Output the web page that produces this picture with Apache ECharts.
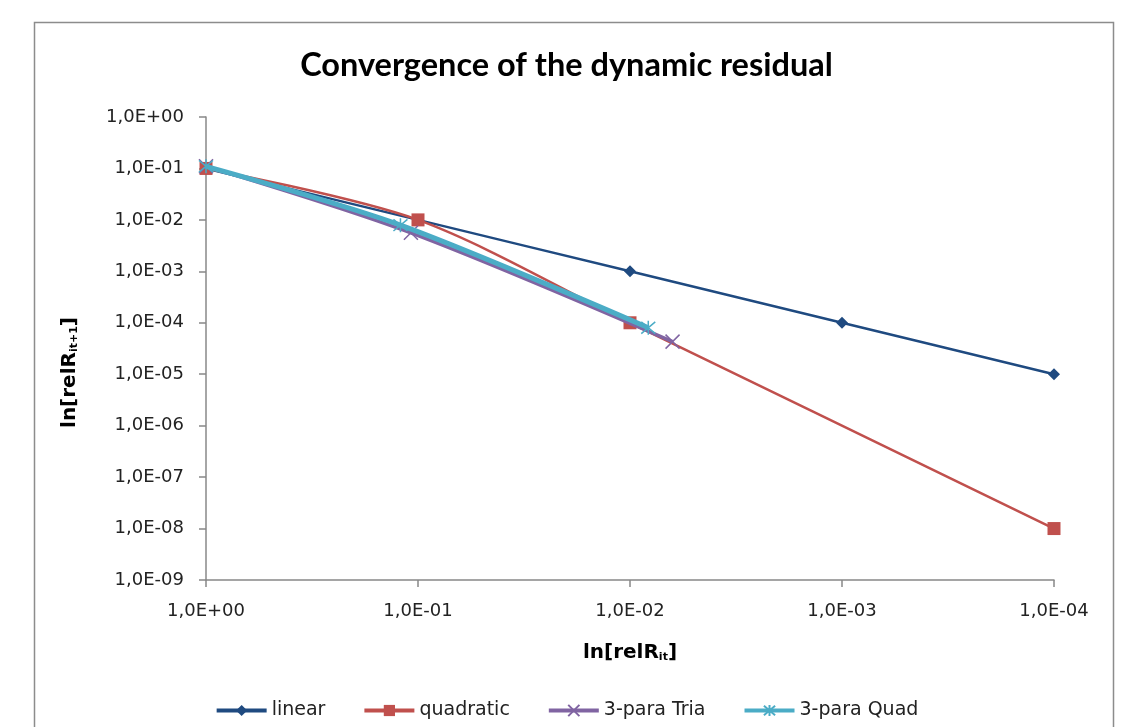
<!DOCTYPE html>
<html>
<head>
<meta charset="utf-8">
<script src="https://cdn.jsdelivr.net/npm/echarts@6/dist/echarts.min.js"></script>
<style>html,body{margin:0;padding:0;background:#fff}#c{width:1133px;height:727px}</style>
</head>
<body>
<div id="c"></div>
<script>
const titleText = 'Convergence of the dynamic residual';
const seriesNames = ['linear', 'quadratic', '3-para Tria', '3-para Quad'];
const linearX = [1, 0.1, 0.01, 0.001, 0.0001];
const linearY = [0.1, 0.01, 0.001, 0.0001, 0.00001];
const quadX = [1, 0.1, 0.01, 0.0001];
const quadY = [0.1, 0.01, 0.0001, 0.00000001];
const triaX = [1, 0.108, 0.0063];
const triaY = [0.11, 0.0056, 0.000043];
const quadParaX = [1, 0.121, 0.0082];
const quadParaY = [0.11, 0.0079, 0.00008];
const xMin = 0.0001, xMax = 1;
const yMin = 1e-9, yMax = 1;

function pairs(xs, ys) { return xs.map((x, i) => [x, ys[i]]); }
function fmt(v) {
  const e = Math.round(Math.log10(v));
  return '1,0E' + (e < 0 ? '-' : '+') + String(Math.abs(e)).padStart(2, '0');
}
const LFONT = 'DejaVu Sans';
const chart = echarts.init(document.getElementById('c'));
const xSym = 'path://M0,0L10,10M10,0L0,10';
const starSym = 'path://M0,0L10,10M10,0L0,10M5,-1L5,11';
const nameRich = {
  m: { fontFamily: LFONT, fontWeight: 'bold', fontSize: 20, color: '#000' },
  s: { fontFamily: LFONT, fontWeight: 'bold', fontSize: 11, color: '#000', verticalAlign: 'bottom', padding: [10, 0, 0, 0] }
};
chart.setOption({
  backgroundColor: '#fff',
  animation: false,
  graphic: [{
    type: 'rect', shape: { x: 34.5, y: 22.5, width: 1079, height: 720 },
    style: { fill: 'none', stroke: '#8c8c8c', lineWidth: 1.5 }, silent: true, z: -1
  }],
  title: {
    text: titleText, left: 'center', top: 44,
    textStyle: { fontFamily: 'Lato', fontWeight: 'bold', fontSize: 32.5, color: '#000' }
  },
  grid: { left: 206, right: 79, top: 117, bottom: 147 },
  legend: {
    bottom: 2, left: 'center', itemWidth: 50, itemHeight: 14, itemGap: 37,
    lineStyle: { width: 4 },
    textStyle: { fontFamily: LFONT, fontSize: 19, color: '#222' },
    data: seriesNames
  },
  xAxis: {
    type: 'log', logBase: 10, min: xMin, max: xMax, inverse: true,
    name: '{m|ln[relR}{s|it}{m|]}', nameLocation: 'middle', nameGap: 62,
    nameTextStyle: { rich: nameRich },
    axisLine: { lineStyle: { color: '#888', width: 1.5 } },
    axisTick: { length: 7, lineStyle: { color: '#888', width: 1.5 } },
    axisLabel: { formatter: fmt, margin: 22, fontFamily: LFONT, fontSize: 18, color: '#222' },
    splitLine: { show: false }, minorTick: { show: false }
  },
  yAxis: {
    type: 'log', logBase: 10, min: yMin, max: yMax,
    name: '{m|ln[relR}{s|it+1}{m|]}', nameLocation: 'middle', nameGap: 126, nameRotate: 90,
    nameTextStyle: { padding: [0, 48, 0, 0], rich: nameRich },
    axisLine: { show: true, lineStyle: { color: '#888', width: 1.5 } },
    axisTick: { show: true, length: 7, lineStyle: { color: '#888', width: 1.5 } },
    axisLabel: { formatter: fmt, margin: 22, fontFamily: LFONT, fontSize: 18, color: '#222' },
    splitLine: { show: false }
  },
  series: [
    { name: seriesNames[0], type: 'line', data: pairs(linearX, linearY), smooth: 0.3,
      color: '#1F4A80', symbol: 'diamond', symbolSize: 12,
      lineStyle: { width: 2.5, color: '#1F4A80' }, itemStyle: { color: '#1F4A80' }, z: 2 },
    { name: seriesNames[1], type: 'line', data: pairs(quadX, quadY), smooth: 0.3,
      color: '#C0504D', symbol: 'rect', symbolSize: 13,
      lineStyle: { width: 2.5, color: '#C0504D' }, itemStyle: { color: '#C0504D' }, z: 3 },
    { name: seriesNames[2], type: 'line', data: pairs(triaX, triaY), smooth: 0.3,
      color: '#8064A2', symbol: xSym, symbolSize: 14,
      lineStyle: { width: 3.5, color: '#8064A2' }, itemStyle: { color: '#8064A2', borderColor: '#8064A2', borderWidth: 1.5 }, z: 4 },
    { name: seriesNames[3], type: 'line', data: pairs(quadParaX, quadParaY), smooth: 0.3,
      color: '#4BACC6', symbol: starSym, symbolSize: 14,
      lineStyle: { width: 5, color: '#4BACC6' }, itemStyle: { color: '#4BACC6', borderColor: '#4BACC6', borderWidth: 1.5 }, z: 5 }
  ]
});
</script>
</body>
</html>
